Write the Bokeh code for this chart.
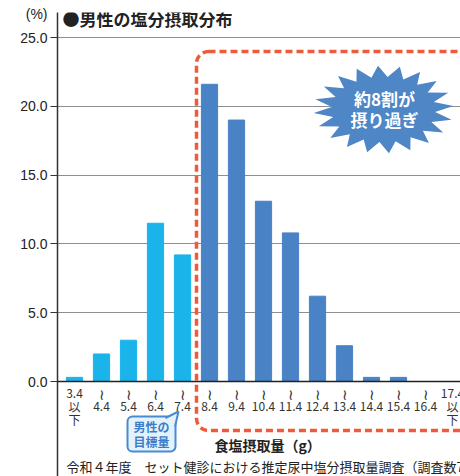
import numpy as np
from bokeh.plotting import figure
from bokeh.models import (Range1d, FixedTicker, NumeralTickFormatter, Span,
                          BoxAnnotation, Label, ColumnDataSource)
from bokeh.core.properties import value
from bokeh.embed import file_html
from bokeh.resources import INLINE

# ---------------- data ----------------
categories = ["3.4以下", "4.4", "5.4", "6.4", "7.4", "8.4", "9.4", "10.4",
              "11.4", "12.4", "13.4", "14.4", "15.4", "16.4", "17.4以下"]
shares = [0.3, 2.0, 3.0, 11.5, 9.2, 21.6, 19.0, 13.1, 10.8, 6.2, 2.6, 0.3, 0.3, 0.0, 0.0]
within_target = 5            # first five classes are within the target amount
y_ticks = [0, 5, 10, 15, 20, 25]
title_text = "●男性の塩分摂取分布"
unit_text = "(%)"
x_title = "食塩摂取量（g）"
footer_text = "令和４年度　セット健診における推定尿中塩分摂取量調査（調査数7"
burst_lines = ["約8割が", "摂り過ぎ"]
callout_lines = ["男性の", "目標量"]

LIGHT = "#1AB4EA"
DARK = "#4A82C6"
JP = "Noto Sans CJK JP"

# ---------------- pixel helpers for decoration placement ----------------
X0, XS = 74.0, 27.0
Y0, YS = 381.0, 13.76
def dx(px): return (px - X0) / XS
def dy(py): return (Y0 - py) / YS

p = figure(width=460, height=476, output_backend="svg", toolbar_location=None,
           x_range=Range1d(dx(57), dx(460)), y_range=Range1d(dy(476), dy(12)),
           x_axis_location=None, min_border_left=57, min_border_right=0,
           min_border_top=12, min_border_bottom=0, background_fill_color="white")
p.outline_line_color = None

# y axis (the unit "(%)" is shown above the top tick label)
ax = p.yaxis[0]
ax.ticker = FixedTicker(ticks=y_ticks)
ax.formatter = NumeralTickFormatter(format="0.0")
ax.major_label_overrides = {float(y_ticks[-1]): unit_text + "\n%.1f\n " % y_ticks[-1]}
ax.major_label_text_font = "Liberation Sans"
ax.major_label_text_font_size = "14px"
ax.major_label_text_color = "#222222"
ax.major_label_text_line_height = 1.45
ax.major_tick_out = 7
ax.major_tick_in = 0
ax.major_tick_line_color = "#333333"
ax.minor_tick_line_color = None
ax.axis_line_color = "#333333"
ax.axis_line_width = 1.5
ax.major_label_standoff = 3

p.xgrid.visible = False
p.ygrid.ticker = FixedTicker(ticks=y_ticks)
p.ygrid.grid_line_color = "#8f8f8f"
p.ygrid.grid_line_width = 1

# bars
n = len(categories)
src = ColumnDataSource(dict(
    x=list(range(n)), top=shares,
    color=[LIGHT if i < within_target else DARK for i in range(n)]))
p.vbar(x="x", top="top", width=0.6, color="color", source=src)
p.add_layout(Span(location=0, dimension="width", line_color="#222222", line_width=1.5))

# category labels
row1, row2, row3 = [], [], []
for c in categories:
    if c.endswith("以下"):
        row1.append(c[:-2]); row2.append("以"); row3.append("下")
    else:
        row1.append("≀"); row2.append(c); row3.append("")
for txt, py in ((row1, 393), (row2, 406), (row3, 419)):
    lsrc = ColumnDataSource(dict(
        x=list(range(n)), y=[dy(py)] * n, t=txt,
        fs=["15px" if s == "≀" else "12px" for s in txt]))
    p.text(x="x", y="y", text="t", source=lsrc, text_font=value(JP),
           text_font_size="fs", text_color="#333333", text_align="center",
           text_baseline="middle")

# dashed "over" region
p.add_layout(BoxAnnotation(left=dx(196), right=dx(540), top=dy(51), bottom=dy(430),
                           fill_color=None, fill_alpha=0, line_color="#EE5B3B",
                           line_alpha=1, line_width=3.5, line_dash="7 4",
                           border_radius=12))

# starburst
cx, cy, rx, ry, k = 383.0, 109.0, 70.0, 44.0, 20
ang = np.linspace(0, 2 * np.pi, 2 * k, endpoint=False) + np.pi / (2 * k)
rr = np.where(np.arange(2 * k) % 2 == 0, 1.0, 0.74)
bx = [dx(cx + rx * r * np.cos(a)) for a, r in zip(ang, rr)]
by = [dy(cy - ry * r * np.sin(a)) for a, r in zip(ang, rr)]
p.patch(bx, by, fill_color="#4F86C6", line_color=None)
for t, py in zip(burst_lines, (98, 119)):
    p.add_layout(Label(x=dx(384), y=dy(py), text=t, text_font=JP, text_font_style="bold",
                       text_font_size="17px", text_color="white", text_align="center",
                       text_baseline="middle"))

# callout box
p.add_layout(BoxAnnotation(left=dx(127), right=dx(175), top=dy(416), bottom=dy(451),
                           fill_color="#E4F2FC", fill_alpha=1, line_color="#4A8AD0",
                           line_alpha=1, line_width=2, border_radius=5))
tail_x = [dx(165), dx(178), dx(174.5)]
tail_y = [dy(417.5), dy(411), dy(426)]
p.patch(tail_x, tail_y, fill_color="#E4F2FC", line_color=None, level="overlay")
p.line(tail_x, tail_y, line_color="#4A8AD0", line_width=2, level="overlay")
for t, py in zip(callout_lines, (426, 441)):
    p.add_layout(Label(x=dx(151), y=dy(py), text=t, text_font=JP, text_font_style="bold",
                       text_font_size="12px", text_color="#3C7DC8", text_align="center",
                       text_baseline="middle"))

# texts
p.add_layout(Label(x=dx(214), y=dy(444), text=x_title, text_font=JP,
                   text_font_style="bold", text_font_size="14px", text_color="#222222",
                   text_align="left", text_baseline="middle"))
p.add_layout(Label(x=dx(66), y=dy(466), text=footer_text, text_font=JP,
                   text_font_size="13px", text_color="#222222", text_align="left",
                   text_baseline="middle"))
p.add_layout(Label(x=dx(62), y=dy(18), text=title_text, text_font=JP,
                   text_font_style="bold", text_font_size="17px", text_color="#222222",
                   text_align="left", text_baseline="middle"))

open("out.html", "w").write(file_html(p, INLINE))
